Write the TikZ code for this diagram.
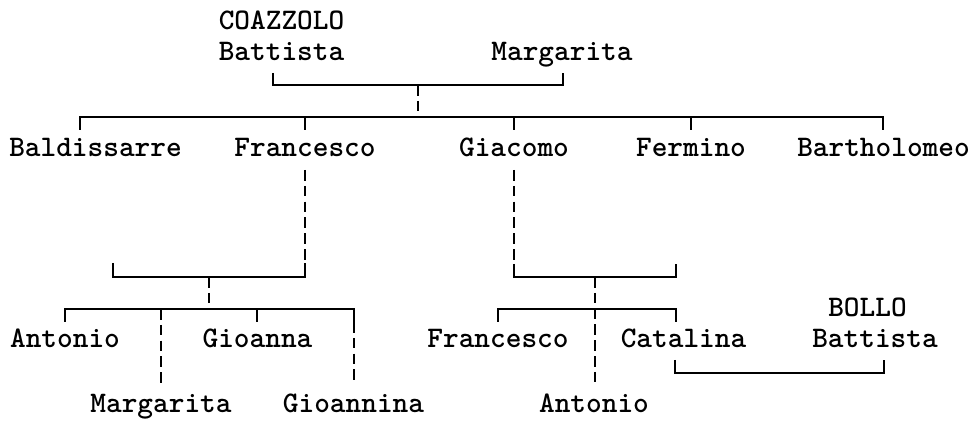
\documentclass[tikz,border=0pt]{standalone}
\usepackage{xcolor}
\usepackage{tikz}

\begin{document}
\begin{tikzpicture}[x=0.02cm, y=-0.02cm, line width=1.1pt,
    person/.style={anchor=base, inner sep=0pt, font=\ttfamily\bfseries\fontsize{17}{20}\selectfont},
    desc/.style={dashed, dash pattern=on 6pt off 3pt}]
    \useasboundingbox (0,0) rectangle (974,421);

    % first generation
    \node (0) at (281.5, 30) [person] {COAZZOLO};
    \node (1) at (281.5, 61) [person] {Battista};
    \node (2) at (562, 61) [person] {Margarita};

    % their children
    \node (3) at (95.5, 157) [person] {Baldissarre};
    \node (4) at (305, 157) [person] {Francesco};
    \node (5) at (514, 157) [person] {Giacomo};
    \node (6) at (691, 157) [person] {Fermino};
    \node (7) at (883.5, 157) [person] {Bartholomeo};

    % children of Francesco
    \node (8) at (65, 348) [person] {Antonio};
    \node (9) at (161, 413) [person] {Margarita};
    \node (10) at (257.5, 348) [person] {Gioanna};
    \node (11) at (353.5, 413) [person] {Gioannina};

    % children of Giacomo
    \node (12) at (498, 348) [person] {Francesco};
    \node (13) at (594, 413) [person] {Antonio};
    \node (14) at (683.5, 348) [person] {Catalina};

    % spouse of Catalina
    \node (15) at (867.5, 317) [person] {BOLLO};
    \node (16) at (875, 348) [person] {Battista};

    \coordinate (a) at (273, 73);
    \coordinate (b) at (563, 73);
    \coordinate (m) at (418, 85);
    \coordinate (s) at (418, 117);
    \draw (a) -- ++(0,12) -| (b);
    \draw[desc] (m) -- (s);
    \draw (80,130) -- ++(0,-13) -| (883,130);
    \foreach \x in {305, 514, 691}
        \draw (\x,117) -- (\x,130);

    % line of Francesco
    \coordinate (f) at (305, 263);
    \coordinate (fm) at (209, 277);
    \coordinate (fs) at (209, 309);
    \draw[desc] (305,170) -- (f);
    \draw (113,263) -- ++(0,14) -| (f);
    \draw[desc] (fm) -- (fs);
    \draw (65,322) -- ++(0,-13) -| (257,322);
    \draw (fs) -| (354,322);
    \draw[desc] (161,309) -- (161,383);
    \draw[desc] (354,322) -- (354,383);

    % line of Giacomo
    \coordinate (g) at (514, 264);
    \coordinate (gm) at (595, 277);
    \draw[desc] (514,170) -- (g);
    \draw (g) -- ++(0,13) -| (676,264);
    \draw[desc] (gm) -- (595,383);
    \draw (498,322) -- ++(0,-13) -| (676,322);

    % Catalina and Battista
    \draw (675,360) -- ++(0,13) -| (884,360);
\end{tikzpicture}
\end{document}
